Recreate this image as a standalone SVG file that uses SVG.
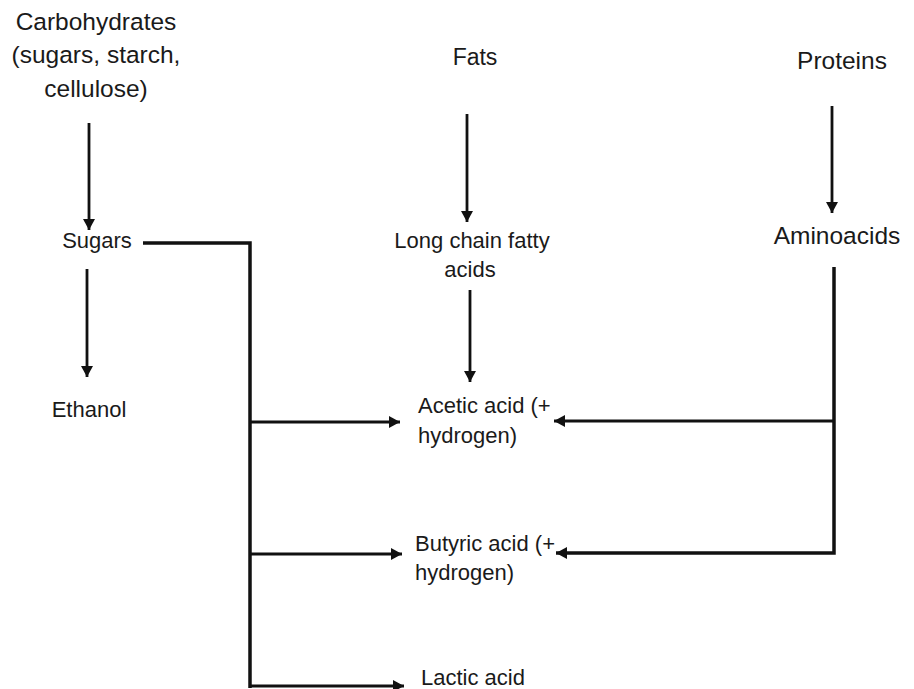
<svg xmlns="http://www.w3.org/2000/svg" width="914" height="689" viewBox="0 0 914 689">
<style>
text{font-family:"Liberation Sans",Arial,sans-serif;fill:#1a1a1a;}
.m{font-size:22px;}
.l{font-size:24.5px;}
.c{text-anchor:middle;}
.ln{stroke:#111;stroke-width:2.8;fill:none;}
.bus{stroke:#111;stroke-width:3.5;fill:none;}
</style>
<defs>
<marker id="ah" markerUnits="userSpaceOnUse" markerWidth="12" markerHeight="12" refX="11" refY="6" orient="auto">
<path d="M0,0 L11,6 L0,12 z" fill="#111"/>
</marker>
</defs>
<rect width="914" height="689" fill="#fff"/>
<g id="carbohydrates"><text class="l c" x="96" y="30">Carbohydrates</text><text class="l c" x="96" y="63">(sugars, starch,</text><text class="l c" x="96" y="97">cellulose)</text></g>
<g id="sugars"><text class="m c" x="97" y="248">Sugars</text></g>
<g id="ethanol"><text class="m c" x="89" y="417">Ethanol</text></g>
<g id="fats"><text class="l c" x="475" y="65" style="font-size:23px">Fats</text></g>
<g id="lcfa"><text class="m c" x="472" y="248">Long chain fatty</text><text class="m c" x="470" y="277">acids</text></g>
<g id="proteins"><text class="l c" x="842" y="69">Proteins</text></g>
<g id="aminoacids"><text class="l c" x="837" y="244">Aminoacids</text></g>
<g id="acetic"><text class="m" x="418" y="413">Acetic acid (+</text><text class="m" x="418" y="443">hydrogen)</text></g>
<g id="butyric"><text class="m" x="415" y="551">Butyric acid (+</text><text class="m" x="415" y="580">hydrogen)</text></g>
<g id="lactic"><text class="m" x="421" y="685">Lactic acid</text></g>
<g id="connectors">
<line class="ln" x1="89" y1="123" x2="89" y2="230" marker-end="url(#ah)"/>
<line class="ln" x1="87" y1="269" x2="87" y2="377" marker-end="url(#ah)"/>
<line class="ln" x1="467" y1="114" x2="467" y2="222" marker-end="url(#ah)"/>
<line class="ln" x1="832" y1="106" x2="832" y2="213" marker-end="url(#ah)"/>
<line class="ln" x1="470" y1="290" x2="470" y2="382" marker-end="url(#ah)"/>
<polyline class="bus" points="143,243 250,243 250,688"/>
<line class="ln" x1="250" y1="422" x2="400" y2="422" marker-end="url(#ah)"/>
<line class="ln" x1="250" y1="554" x2="402" y2="554" marker-end="url(#ah)"/>
<line class="ln" x1="250" y1="686" x2="404" y2="686" marker-end="url(#ah)"/>
<polyline class="bus" points="834,267 834,553 556,553" marker-end="url(#ah)"/>
<line class="ln" x1="834" y1="421" x2="554" y2="421" marker-end="url(#ah)"/>
</g>
</svg>
